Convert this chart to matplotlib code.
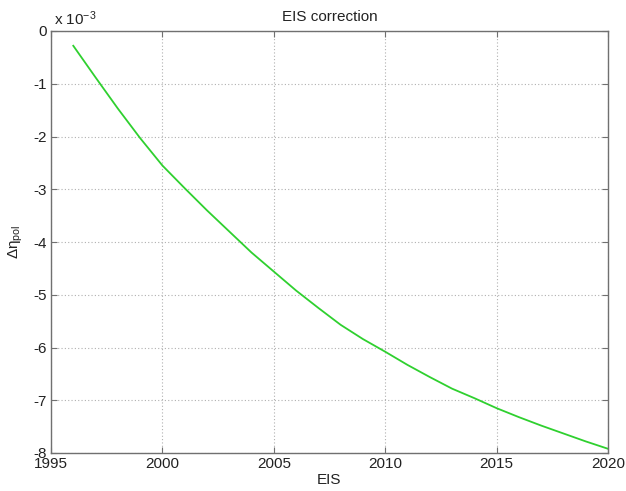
import matplotlib
matplotlib.use("Agg")
import matplotlib.pyplot as plt

plt.rcParams['font.family'] = ['Liberation Sans', 'DejaVu Sans']
plt.rcParams['axes.unicode_minus'] = False
plt.rcParams['mathtext.default'] = 'regular'

# Data (values in units of 1e-3)
years = [1996, 1997, 1998, 1999, 2000, 2001, 2002, 2003, 2004, 2005, 2006, 2007, 2008,
         2009, 2010, 2011, 2012, 2013, 2014, 2015, 2016, 2017, 2018, 2019, 2020]
delta_eta = [-0.28, -0.88, -1.47, -2.03, -2.55, -2.98, -3.40, -3.80, -4.20, -4.56, -4.92,
             -5.25, -5.57, -5.84, -6.08, -6.33, -6.56, -6.78, -6.96, -7.15, -7.32, -7.48,
             -7.63, -7.78, -7.92]
xticks = [1995, 2000, 2005, 2010, 2015, 2020]
yticks = [0, -1, -2, -3, -4, -5, -6, -7, -8]

fig = plt.figure(figsize=(6.26, 4.91), dpi=100)
ax = fig.add_axes([51/626, 1-453/491, (608-51)/626, (453-31)/491])
ax.plot(years, delta_eta, color='#2fd02f', lw=1.3)
ax.set_xlim(1995, 2020)
ax.set_ylim(-8, 0)
ax.set_xticks(xticks)
ax.set_yticks(yticks)
ax.set_yticklabels([str(t) for t in yticks])
ax.grid(True, linestyle=(0, (1, 2)), color='#b0b0b0', lw=0.8)
for s in ax.spines.values():
    s.set_color('#707070')
    s.set_linewidth(1.0)
ax.tick_params(direction='in', top=True, right=True, length=4, color='#707070',
               labelsize=11, labelcolor='#222222', pad=3)
ax.set_title('EIS correction', fontsize=11, color='#222222', pad=7)
ax.set_xlabel('EIS', fontsize=11, color='#222222', labelpad=1)
ax.set_ylabel(r'Δη$_{pol}$', fontsize=11, color='#222222', labelpad=6)
fig.text(54/626, 1-19/491, r'x 10$^{-3}$', fontsize=11, color='#222222', ha='left', va='center')
fig.savefig('out.png', dpi=100)
